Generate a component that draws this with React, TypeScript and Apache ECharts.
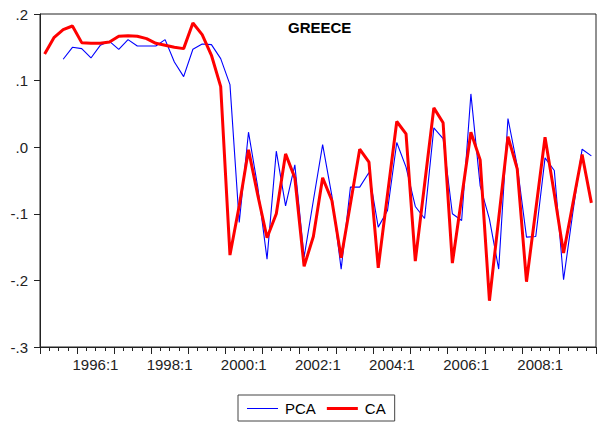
import React, { useEffect, useRef } from "react";
import * as echarts from "echarts";

const years = [1995, 1996, 1997, 1998, 1999, 2000, 2001, 2002, 2003, 2004, 2005, 2006, 2007, 2008, 2009];
const quarters = years.flatMap((y) => [1, 2, 3, 4].map((q) => `${y}:${q}`));

const pca: (number | null)[] = [
  null, null, 0.132, 0.150, 0.148, 0.134, 0.153, 0.159, 0.147, 0.1615,
  0.152, 0.152, 0.152, 0.1615, 0.128, 0.106, 0.147, 0.155, 0.154, 0.133,
  0.094, -0.113, 0.0225, -0.060, -0.168, -0.006, -0.088, -0.0265, -0.165, -0.080,
  0.004, -0.073, -0.183, -0.060, -0.060, -0.038, -0.120, -0.095, 0.007, -0.030,
  -0.089, -0.107, 0.029, 0.013, -0.100, -0.110, 0.080, -0.058, -0.108, -0.183,
  0.043, -0.028, -0.135, -0.134, -0.016, -0.035, -0.199, -0.098, -0.003, -0.013,
];

const ca: number[] = [
  0.140, 0.1645, 0.1765, 0.182, 0.157, 0.156, 0.156, 0.158, 0.1665, 0.1675,
  0.1665, 0.163, 0.156, 0.153, 0.150, 0.148, 0.1865, 0.169, 0.138, 0.091,
  -0.162, -0.088, -0.004, -0.072, -0.136, -0.100, -0.010, -0.046, -0.179, -0.134,
  -0.046, -0.080, -0.166, -0.085, -0.003, -0.0225, -0.181, -0.071, 0.0386, 0.020,
  -0.171, -0.056, 0.059, 0.0366, -0.174, -0.076, 0.0225, -0.019, -0.2305, -0.107,
  0.016, -0.0325, -0.202, -0.094, 0.015, -0.070, -0.159, -0.085, -0.011, -0.0836,
];

const FONT = "'Liberation Sans', Arial, Helvetica, sans-serif";

export default function App() {
  const ref = useRef<HTMLDivElement>(null);
  useEffect(() => {
    if (!ref.current) return;
    const chart = echarts.init(ref.current, undefined, { renderer: "svg" });
    chart.setOption({
      animation: false,
      backgroundColor: "#ffffff",
      title: {
        text: "GREECE",
        left: 288,
        top: 20,
        padding: 0,
        textStyle: { fontSize: 15, fontWeight: "bold", fontFamily: FONT, color: "#000" },
      },
      legend: {
        data: [
          { name: "PCA", icon: "path://M0,0H31V1H0Z" },
          { name: "CA", icon: "path://M0,0H31V3H0Z" },
        ],
        left: 238,
        top: 395,
        orient: "horizontal",
        padding: [6, 9, 5, 9],
        itemWidth: 31,
        itemHeight: 14,
        itemGap: 11,
        symbolKeepAspect: true,
        borderColor: "#444",
        borderWidth: 1,
        textStyle: { fontSize: 15, fontFamily: FONT, color: "#000", padding: [0, 0, 0, 2] },
      },
      grid: {
        left: 40,
        top: 14,
        width: 556,
        height: 333,
        show: true,
        borderColor: "#222",
        borderWidth: 1,
        backgroundColor: "transparent",
      },
      xAxis: [
        {
          type: "category",
          data: quarters,
          boundaryGap: true,
          axisLine: { show: true, onZero: false, lineStyle: { color: "#222", width: 1 } },
          axisTick: { show: true, interval: 0, length: 4, inside: false, lineStyle: { color: "#222" } },
          axisLabel: {
            show: true,
            interval: (idx: number) => idx % 8 === 5,
            formatter: (v: string) => `${v.split(":")[0]}:1`,
            fontSize: 15,
            fontFamily: FONT,
            color: "#222",
            margin: 10,
            padding: [0, 0, 0, 9],
          },
          splitLine: { show: false },
        },
        {
          type: "category",
          data: quarters,
          position: "bottom",
          boundaryGap: true,
          axisLine: { show: false, onZero: false },
          axisTick: { show: true, interval: 3, length: 7, inside: false, lineStyle: { color: "#222" } },
          axisLabel: { show: false },
          splitLine: { show: false },
        },
      ],
      yAxis: {
        type: "value",
        min: -0.3,
        max: 0.2,
        interval: 0.1,
        axisLine: { show: true, lineStyle: { color: "#222", width: 1 } },
        axisTick: { show: true, length: 6, inside: false, lineStyle: { color: "#222" } },
        axisLabel: {
          fontSize: 15,
          fontFamily: FONT,
          color: "#222",
          margin: 12,
          formatter: (v: number) => {
            const n = Math.round(v * 10);
            if (n === 0) return ".0";
            return n < 0 ? `-.${-n}` : `.${n}`;
          },
        },
        splitLine: { show: false },
      },
      series: [
        {
          name: "PCA",
          type: "line",
          data: pca,
          xAxisIndex: 0,
          symbol: "none",
          connectNulls: false,
          lineStyle: { color: "#0000ff", width: 1.1 },
          itemStyle: { color: "#0000ff" },
        },
        {
          name: "CA",
          type: "line",
          data: ca,
          xAxisIndex: 0,
          symbol: "none",
          lineStyle: { color: "#ff0000", width: 3 },
          itemStyle: { color: "#ff0000" },
        },
      ],
    });
    return () => chart.dispose();
  }, []);
  return (
    <div
      ref={ref}
      style={{ position: "fixed", left: 0, top: 0, width: 599, height: 423, background: "#fff" }}
    />
  );
}
